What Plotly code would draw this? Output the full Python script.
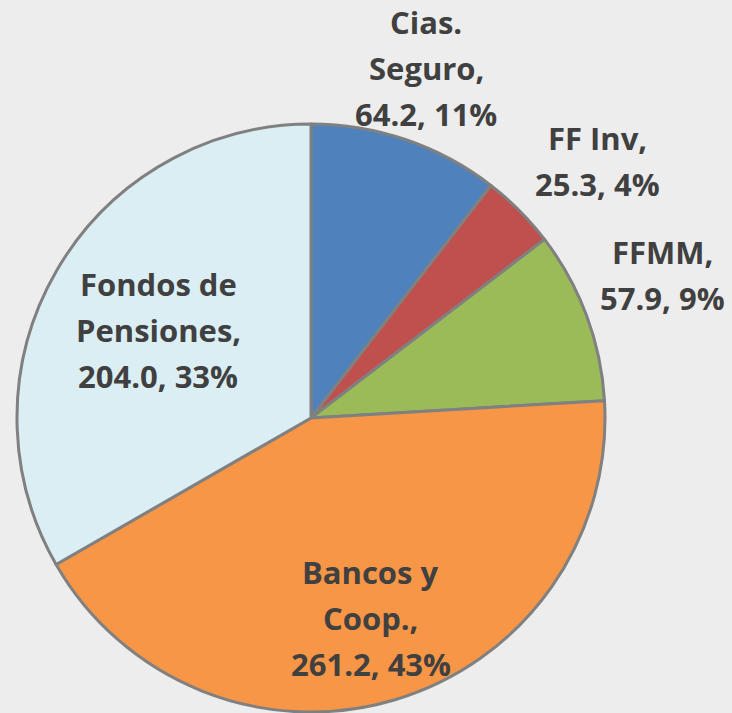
import plotly.graph_objects as go

labels = ["Cias. Seguro", "FF Inv", "FFMM", "Bancos y Coop.", "Fondos de Pensiones"]
values = [64.2, 25.3, 57.9, 261.2, 204.0]
percents = [11, 4, 9, 43, 33]
label_lines = [["Cias.", "Seguro,"], ["FF Inv,"], ["FFMM,"], ["Bancos y", "Coop.,"], ["Fondos de", "Pensiones,"]]
colors = ["#4F81BD", "#C0504D", "#9BBB59", "#F79646", "#DBEEF4"]

W, H = 732, 713

fig = go.Figure(go.Pie(
    labels=labels, values=values, sort=False, direction="clockwise", rotation=0,
    marker=dict(colors=colors, line=dict(color="#808080", width=3)),
    textinfo="none", hoverinfo="label+value+percent", showlegend=False,
    domain=dict(x=[17 / W, 605 / W], y=[1 - 712 / H, 1 - 124 / H]),
))

# label block anchors (pixel centre x, baseline of first line), line spacing in px
anchors = [(426, 35), (597, 151), (662, 265), (371, 585), (158, 297)]
spacing = 46
annotations = []
for lines, v, pct, (cx, by) in zip(label_lines, values, percents, anchors):
    all_lines = lines + [f"{v:.1f}, {pct}%"]
    for i, t in enumerate(all_lines):
        base = by + i * spacing
        annotations.append(dict(
            x=cx / W, y=1 - (base - 13) / H, xref="paper", yref="paper",
            text=f"<b>{t}</b>", showarrow=False, xanchor="center", yanchor="middle",
            font=dict(family="Open Sans", size=31, color="#404040"),
        ))

fig.update_layout(
    width=W, height=H, margin=dict(l=0, r=0, t=0, b=0),
    paper_bgcolor="#EDEDED", plot_bgcolor="#EDEDED",
    annotations=annotations,
)
fig.write_html("out.html", config={"displayModeBar": False},
               post_script="document.body.style.margin='0';document.body.style.overflow='hidden';")
